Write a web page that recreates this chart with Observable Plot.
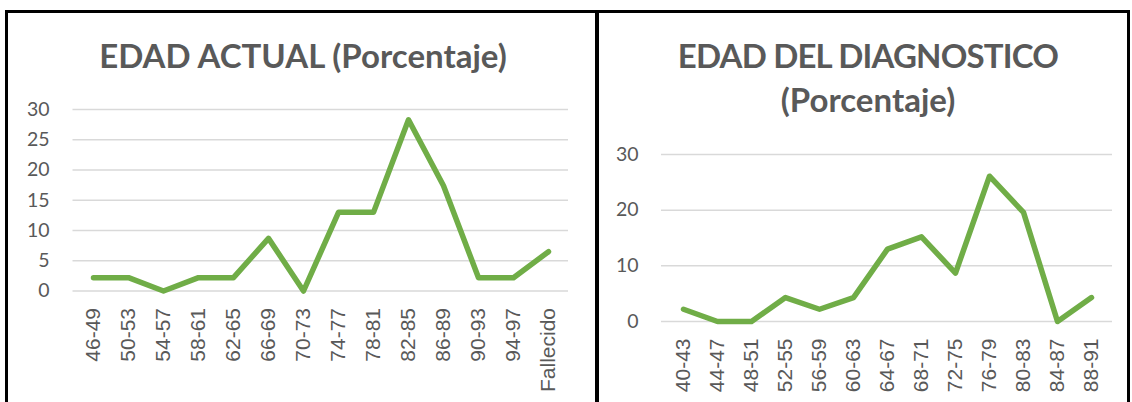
<!DOCTYPE html>
<html><head><meta charset="utf-8">
<script src="https://cdn.jsdelivr.net/npm/d3@7"></script>
<script src="https://cdn.jsdelivr.net/npm/@observablehq/plot@0.6"></script>
<style>
body{margin:0;background:#fff;}
#page{position:relative;width:1132px;height:402px;overflow:hidden;background:#fff;}
.frame{position:absolute;left:5px;top:10px;width:1119px;height:400px;border:3px solid #000;border-bottom:none;}
.divider{position:absolute;left:595px;top:10px;width:4px;height:392px;background:#000;}
.chart{position:absolute;top:0;}
.title{position:absolute;color:#595959;font-family:Lato,sans-serif;font-weight:bold;font-size:33px;text-align:center;line-height:44px;white-space:nowrap;}
</style></head><body>
<div id="page">
 <div id="c1" class="chart" style="left:0"></div>
 <div id="c2" class="chart" style="left:600px"></div>
 <div class="title" style="left:8px;width:590px;top:33px">EDAD ACTUAL (Porcentaje)</div>
 <div class="title" style="left:600px;width:536px;top:33px"><span style="letter-spacing:-0.8px">EDAD DEL DIAGNOSTICO</span><br>(Porcentaje)</div>
 <div class="frame"></div><div class="divider"></div>
</div>
<script>
const actualCats = ["46-49","50-53","54-57","58-61","62-65","66-69","70-73","74-77","78-81","82-85","86-89","90-93","94-97","Fallecido"];
const actualVals = [2.2,2.2,0,2.2,2.2,8.7,0,13,13,28.3,17.4,2.2,2.2,6.5];
const actualTicks = [0,5,10,15,20,25,30];

const diagCats = ["40-43","44-47","48-51","52-55","56-59","60-63","64-67","68-71","72-75","76-79","80-83","84-87","88-91"];
const diagVals = [2.2,0,0,4.3,2.2,4.3,13,15.2,8.7,26.1,19.6,0,4.3];
const diagTicks = [0,10,20,30];

function make(cats, vals, ticks, o) {
  const data = cats.map((c, i) => ({c, v: vals[i]}));
  return Plot.plot({
    width: o.width, height: 402,
    marginLeft: o.ml, marginRight: o.mr, marginTop: o.mt, marginBottom: o.mb,
    style: {color: "#595959", background: "transparent", overflow: "visible"},
    x: {type: "point", domain: cats, padding: 0.5, axis: null},
    y: {domain: [0, 30], axis: null},
    marks: [
      Plot.gridY(ticks, {stroke: "#d9d9d9", strokeOpacity: 1, strokeWidth: 1.5}),
      Plot.axisY(ticks, {tickSize: 0, tickPadding: o.ytp, fontSize: 19.5, fontFamily: "Lato", label: null}),
      Plot.axisX(cats, {tickSize: 0, tickPadding: 17, tickRotate: -90, fontSize: 21, fontFamily: "Liberation Sans", label: null}),
      Plot.line(data, {x: "c", y: "v", stroke: "#70AD47", strokeWidth: 5.5, strokeLinejoin: "round", strokeLinecap: "round"})
    ]
  });
}

document.getElementById("c1").append(make(actualCats, actualVals, actualTicks, {width: 596, ml: 72.5, mr: 28, mt: 109, mb: 111.5, ytp: 23.5}));
document.getElementById("c2").append(make(diagCats, diagVals, diagTicks, {width: 532, ml: 61, mr: 20, mt: 154, mb: 81, ytp: 23}));
</script>
</body></html>
